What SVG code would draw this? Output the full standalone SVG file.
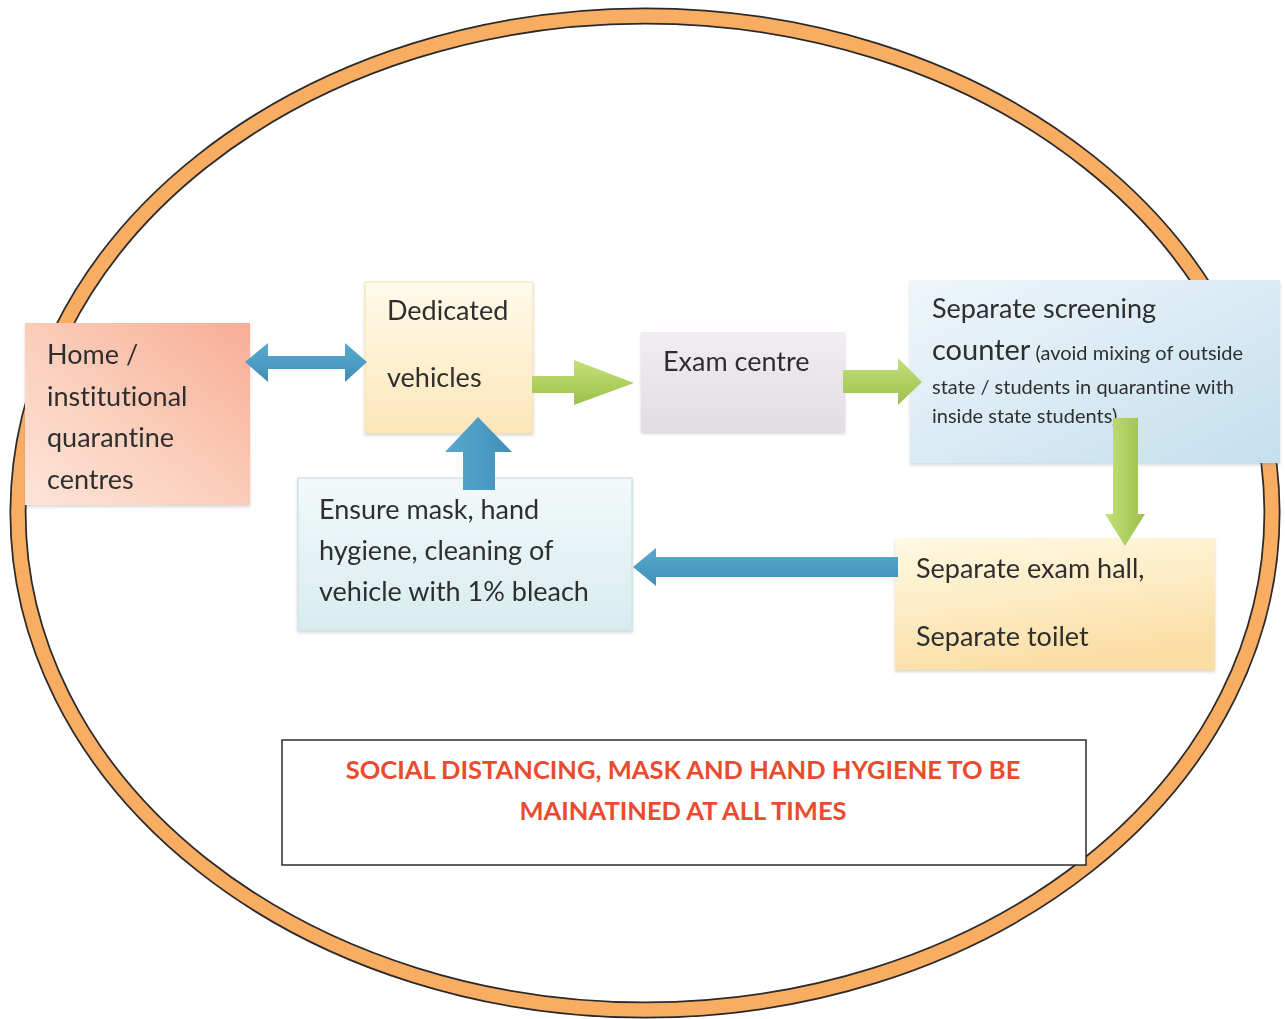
<svg xmlns="http://www.w3.org/2000/svg" width="1285" height="1019" viewBox="0 0 1285 1019">
<defs>
<style>
.t{font-family:Lato,"Open Sans","Liberation Sans",sans-serif;fill:#2f2f2f;font-size:27px;font-variant-ligatures:none}
.s{font-size:20px}
.c{font-size:29px}
.r{font-family:Lato,"Liberation Sans",sans-serif;font-weight:bold;fill:#ea4a2e;font-size:25.5px;text-anchor:middle;font-variant-ligatures:none}
.box{filter:url(#sh)}
</style>
<filter id="sh" x="-5%" y="-5%" width="110%" height="115%">
<feDropShadow dx="0" dy="2" stdDeviation="1.5" flood-color="#8a8a8a" flood-opacity="0.35"/>
</filter>
<linearGradient id="gHome" x1="1" y1="0" x2="0" y2="1">
<stop offset="0" stop-color="#f7ad95"/><stop offset="0.6" stop-color="#fbd2c0"/><stop offset="1" stop-color="#fde4d8"/>
</linearGradient>
<linearGradient id="gDed" x1="0" y1="0" x2="0" y2="1">
<stop offset="0" stop-color="#fffaea"/><stop offset="1" stop-color="#fce6b9"/>
</linearGradient>
<linearGradient id="gExam" x1="0" y1="0" x2="0" y2="1">
<stop offset="0" stop-color="#f1edf2"/><stop offset="1" stop-color="#e2dce3"/>
</linearGradient>
<linearGradient id="gScr" x1="0" y1="0" x2="1" y2="1">
<stop offset="0" stop-color="#eff6fa"/><stop offset="1" stop-color="#c4dfee"/>
</linearGradient>
<linearGradient id="gHall" x1="0" y1="0" x2="0.3" y2="1">
<stop offset="0" stop-color="#fffae4"/><stop offset="1" stop-color="#fbdea6"/>
</linearGradient>
<linearGradient id="gEns" x1="0" y1="0" x2="0" y2="1">
<stop offset="0" stop-color="#f3f9fa"/><stop offset="1" stop-color="#d7ecef"/>
</linearGradient>
<linearGradient id="gBlueH" x1="0" y1="0" x2="0" y2="1">
<stop offset="0" stop-color="#5aa9ce"/><stop offset="1" stop-color="#3f8fb8"/>
</linearGradient>
<linearGradient id="gBlueV" x1="0" y1="0" x2="1" y2="0">
<stop offset="0" stop-color="#5aa9ce"/><stop offset="1" stop-color="#3f8fb8"/>
</linearGradient>
<linearGradient id="gGreenH" x1="0" y1="0" x2="0" y2="1">
<stop offset="0" stop-color="#c4e07a"/><stop offset="1" stop-color="#9cc04a"/>
</linearGradient>
<linearGradient id="gGreenV" x1="0" y1="0" x2="1" y2="0">
<stop offset="0" stop-color="#c4e07a"/><stop offset="1" stop-color="#9cc04a"/>
</linearGradient>
</defs>
<rect width="1285" height="1019" fill="#ffffff"/>
<g id="boundary">
<ellipse cx="645" cy="513" rx="627" ry="497" fill="none" stroke="#2a2a2a" stroke-width="17"/>
<ellipse cx="645" cy="513" rx="627" ry="497" fill="none" stroke="#f9ad63" stroke-width="13.5"/>
</g>
<g id="home" class="box">
<rect x="25" y="323" width="225" height="182" fill="url(#gHome)"/>
<text class="t" x="47" y="364">Home /</text>
<text class="t" x="47" y="406">institutional</text>
<text class="t" x="47" y="447">quarantine</text>
<text class="t" x="47" y="489">centres</text>
</g>
<g id="dedicated" class="box">
<rect x="365" y="282" width="168" height="151" fill="url(#gDed)" stroke="#f6e2b8" stroke-width="1"/>
<text class="t" x="387" y="320">Dedicated</text>
<text class="t" x="387" y="387">vehicles</text>
</g>
<g id="exam" class="box">
<rect x="641" y="332" width="204" height="100" fill="url(#gExam)"/>
<text class="t" x="663" y="371">Exam centre</text>
</g>
<g id="screening" class="box">
<rect x="910" y="280" width="370" height="183" fill="url(#gScr)"/>
<text class="t" x="932" y="318">Separate screening</text>
<text class="t" x="932" y="360"><tspan class="c">counter</tspan><tspan class="s"> (avoid mixing of outside</tspan></text>
<text class="t s" x="932" y="394">state / students in quarantine with</text>
<text class="t s" x="932" y="423">inside state students)</text>
</g>
<g id="hall" class="box">
<rect x="895" y="538" width="320" height="132" fill="url(#gHall)"/>
<text class="t" x="916" y="578">Separate exam hall,</text>
<text class="t" x="916" y="646">Separate toilet</text>
</g>
<g id="ensure" class="box">
<rect x="298" y="478" width="334" height="152" fill="url(#gEns)" stroke="#cfe5ea" stroke-width="1.5"/>
<text class="t" x="319" y="519">Ensure mask, hand</text>
<text class="t" x="319" y="560">hygiene, cleaning of</text>
<text class="t" x="319" y="601">vehicle with 1% bleach</text>
</g>
<g id="note">
<rect x="282" y="740" width="804" height="125" fill="#ffffff" stroke="#2a2a2a" stroke-width="1.5"/>
<text class="r" x="683" y="779">SOCIAL DISTANCING, MASK AND HAND HYGIENE TO BE</text>
<text class="r" x="683" y="820">MAINATINED AT ALL TIMES</text>
</g>
<g id="connectors">
<polygon points="245,362 268,343 268,356 345,356 345,343 367,362 345,382 345,369 268,369 268,382" fill="url(#gBlueH)"/>
<polygon points="532,376 574,376 574,360 634,383 574,405 574,393 532,393" fill="url(#gGreenH)"/>
<polygon points="843,370 898,370 898,358 922,382 898,405 898,393 843,393" fill="url(#gGreenH)"/>
<polygon points="1113,418 1138,418 1138,514 1145,514 1125,546 1105,514 1113,514" fill="url(#gGreenV)"/>
<polygon points="898,557 898,577 656,577 656,586 633,567 656,548 656,557" fill="url(#gBlueH)"/>
<polygon points="463,490 463,452 445,452 478,417 512,452 495,452 495,490" fill="url(#gBlueV)"/>
</g>
</svg>
